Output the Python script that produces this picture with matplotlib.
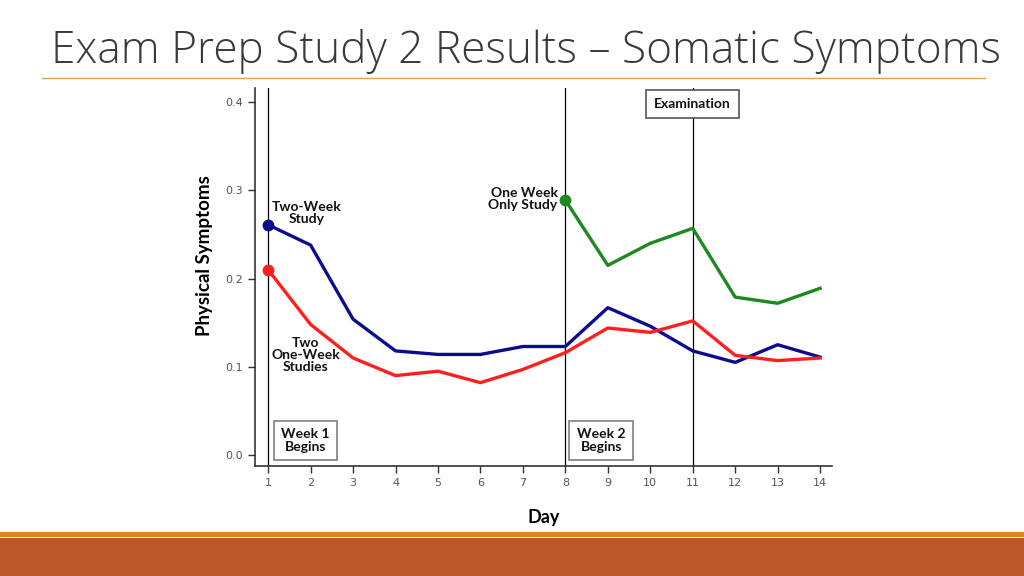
import matplotlib
matplotlib.use("Agg")
import matplotlib.pyplot as plt
from matplotlib.patches import Rectangle

days = list(range(1, 15))
two_week = [0.261, 0.238, 0.154, 0.118, 0.114, 0.114, 0.123, 0.123, 0.167, 0.146, 0.118, 0.105, 0.125, 0.111]
two_one_week = [0.210, 0.148, 0.110, 0.090, 0.095, 0.082, 0.097, 0.116, 0.144, 0.139, 0.152, 0.113, 0.107, 0.110]
one_week_days = [8, 9, 10, 11, 12, 13, 14]
one_week_only = [0.289, 0.215, 0.240, 0.257, 0.179, 0.172, 0.189]
y_ticks = [0.0, 0.1, 0.2, 0.3, 0.4]
event_days = [1, 8, 11]

fig = plt.figure(figsize=(10.24, 5.76), dpi=100)
fig.patch.set_facecolor("white")

# Title and decorations
fig.text(0.050, 0.911, "Exam Prep Study 2 Results \u2013 Somatic Symptoms",
         fontsize=31.8, color="#3a3a3a", family="Open Sans", fontweight="light",
         va="center", ha="left")
fig.add_artist(plt.Line2D([0.041, 0.962], [0.864, 0.864], color="#E3A24A", lw=1.0))
fig.add_artist(Rectangle((0, 0.0677), 1, 0.0087, transform=fig.transFigure, color="#E0861F", lw=0))
fig.add_artist(Rectangle((0, 0), 1, 0.066, transform=fig.transFigure, color="#BD582C", lw=0))

ax = fig.add_axes([0.249, 0.191, 0.5635, 0.656])
ax.set_xlim(0.69, 14.28)
ax.set_ylim(-0.0125, 0.416)
for s in ["top", "right"]:
    ax.spines[s].set_visible(False)
for s in ["left", "bottom"]:
    ax.spines[s].set_linewidth(1.2)
    ax.spines[s].set_color("#333333")

ax.set_xticks(days)
ax.set_xticklabels([str(d) for d in days])
ax.set_yticks(y_ticks)
ax.set_yticklabels([f"{v:.1f}" for v in y_ticks])
ax.tick_params(labelsize=8, labelcolor="#555555", color="#333333", length=5, width=1)

ax.set_xlabel("Day", fontsize=13, fontweight="bold", family="Lato", labelpad=15)
ax.set_ylabel("Physical Symptoms", fontsize=13.5, fontweight="bold", family="Lato")
ax.yaxis.set_label_coords(-0.072, 0.558)

# event lines
ax.axvline(event_days[0], color="black", lw=0.9, zorder=1)
ax.axvline(event_days[1], color="black", lw=0.9, zorder=1)
ax.axvline(event_days[2], color="black", lw=0.9, zorder=1)

blue = "#0B0B8E"
red = "#FF1F1F"
green = "#1D8A1D"
ax.plot(days, two_week, color=blue, lw=2.4, zorder=3)
ax.plot(days[0], two_week[0], "o", color=blue, ms=7.5, zorder=4)
ax.plot(days, two_one_week, color=red, lw=2.4, zorder=3)
ax.plot(days[0], two_one_week[0], "o", color=red, ms=7.5, zorder=4)
ax.plot(one_week_days, one_week_only, color=green, lw=2.4, zorder=3)
ax.plot(one_week_days[0], one_week_only[0], "o", color=green, ms=7.5, zorder=4)

fkw = dict(fontsize=10, fontweight="bold", family="Lato", color="#111111")
ax.text(1.9, 0.274, "Two-Week\nStudy", ha="center", va="center", linespacing=1.0, **fkw)
ax.text(1.88, 0.1135, "Two\nOne-Week\nStudies", ha="center", va="center", linespacing=1.0, **fkw)
ax.text(7.82, 0.290, "One Week\nOnly Study", ha="right", va="center", linespacing=1.0, **fkw)

box_gray = dict(boxstyle="square,pad=0.55", facecolor="white", edgecolor="#888888", lw=1.3)
ax.text(1.88, 0.0165, "Week 1\nBegins", ha="center", va="center", linespacing=1.05,
        bbox=box_gray, zorder=5, **fkw)
ax.text(8.85, 0.0165, "Week 2\nBegins", ha="center", va="center", linespacing=1.05,
        bbox=box_gray, zorder=5, **fkw)
ax.text(11.0, 0.398, "Examination", ha="center", va="center",
        bbox=dict(boxstyle="square,pad=0.6", facecolor="white", edgecolor="#555555", lw=1.2),
        zorder=5, **fkw)

fig.savefig("out.png", dpi=100, facecolor="white")
